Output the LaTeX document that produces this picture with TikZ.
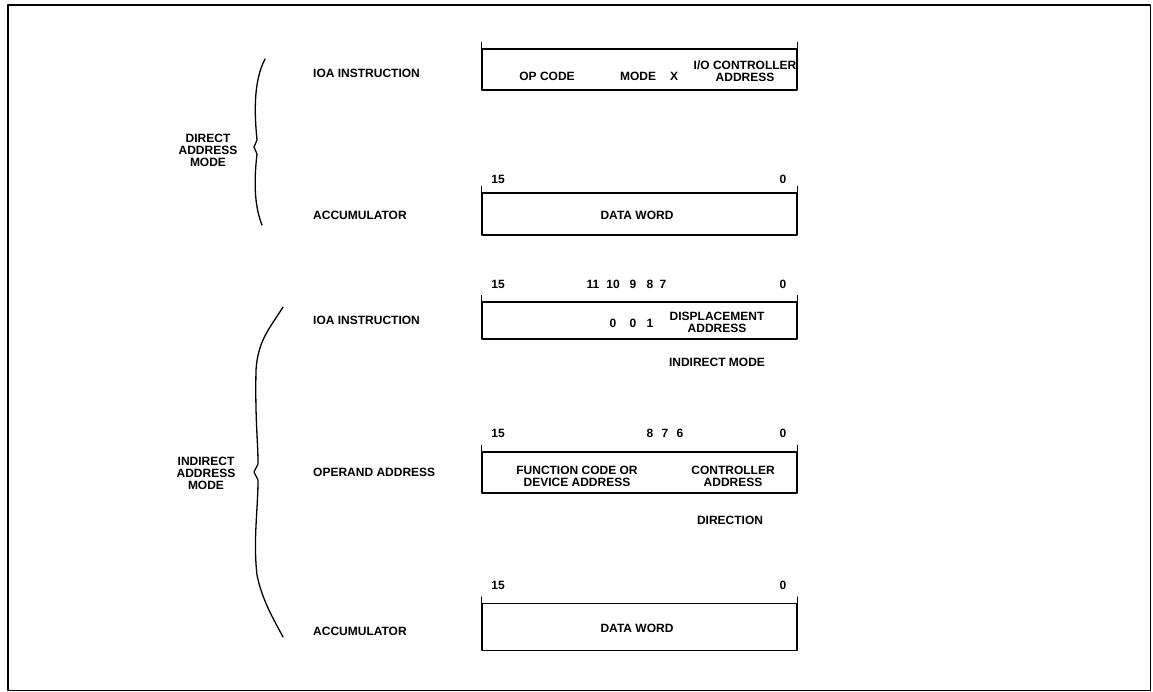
\documentclass[tikz,border=0pt]{standalone}
\usepackage{fontspec}
\setmainfont{Liberation Sans}
\usetikzlibrary{positioning}
\tikzset{
  every picture/.style={line cap=round, line join=round},
  lbl/.style={font=\bfseries\fontsize{12}{12}\selectfont, inner sep=0pt, align=center},
  bitno/.style={lbl, anchor=base},
  rowname/.style={lbl, anchor=west},
  wordbox/.style={draw, line width=1.1pt, minimum width=315pt, inner sep=0pt},
  tick/.style={line width=1.1pt},
  brace/.style={line width=1.3pt},
}

\begin{document}
\begin{tikzpicture}[x=1pt, y=-1pt]
  \useasboundingbox (0,0) rectangle (1153,692);
  % frame
  \draw[line width=0.9pt] (8,5) rectangle (1150,690);
  \draw[line width=2.6pt] (8,690) -- (8,5) -- (1150,5);

  % direct address mode
  \node[wordbox, minimum height=41pt] (ioadir) at (639.5,69.5) {};
  \node[wordbox, minimum height=42pt] (accdir) at (639.5,214) {};
  \node[wordbox, minimum height=37pt] (ioaind) at (639.5,320.5) {};
  \node[wordbox, minimum height=41pt] (opaddr) at (639.5,472.5) {};
  \node[wordbox, minimum height=47pt] (accind) at (639.5,627) {};
  \foreach \b in {ioadir, accdir, ioaind, opaddr, accind}{
    \draw[tick] (\b.north west) -- ++(0,-6);
    \draw[tick] (\b.north east) -- ++(0,-6);}

  % row names
  \node[rowname] (n1) at (313,73) {IOA INSTRUCTION};
  \node[rowname] (n2) at (313,215) {ACCUMULATOR};
  \node[rowname] (n3) at (313,320) {IOA INSTRUCTION};
  \node[rowname] (n4) at (313,472) {OPERAND ADDRESS};
  \node[rowname] (n5) at (313,631) {ACCUMULATOR};

  % fields
  \node[lbl] (opc) at (547,76) {OP CODE};
  \node[lbl] (mode) at (638,76) {MODE};
  \node[lbl] (xbit) at (674,76) {X};
  \node[lbl] (ioc) at (745,71) {I/O CONTROLLER\\ADDRESS};
  \node[lbl] (dw1) at (637,215) {DATA WORD};
  \foreach \x/\v in {613/0, 633/0, 650/1}
    \node[bitno] (m\x) at (\x,327) {\v};
  \node[lbl] (disp) at (717,322) {DISPLACEMENT\\ADDRESS};
  \node[lbl] (indm) at (717,362) {INDIRECT MODE};
  \node[lbl] (fcode) at (577,476) {FUNCTION CODE OR\\DEVICE ADDRESS};
  \node[lbl] (ctrl) at (733,476) {CONTROLLER\\ADDRESS};
  \node[lbl] (dirn) at (730,520) {DIRECTION};
  \node[lbl] (dw2) at (637,628) {DATA WORD};

  % bit numbers
  \foreach \x/\l/\y in {498/15/184, 783/0/184,
                        498/15/289, 593/11/289, 613/10/289, 633/9/289, 650/8/289, 663/7/289, 783/0/289,
                        498/15/437, 650/8/437, 665/7/437, 680/6/437, 783/0/437,
                        498/15/589, 783/0/589}
    \node[bitno] (b\x-\y) at (\x,\y) {\l};

  % braces
  \draw[brace] (265,59) .. controls (254,80) and (254,110) .. (257,140)
    -- (254,147) -- (257,154) .. controls (254,180) and (254,205) .. (262,225);
  \draw[brace] (283,307) .. controls (270,328) and (258,340) .. (256,370)
    .. controls (255,420) and (258,440) .. (258,464)
    -- (254,472) -- (258,480)
    .. controls (258,510) and (253,540) .. (257,575)
    .. controls (262,600) and (274,620) .. (283,637);
  \node[lbl] (dlab) at (208,150) {DIRECT\\ADDRESS\\MODE};
  \node[lbl] (ilab) at (206,473) {INDIRECT\\ADDRESS\\MODE};
\end{tikzpicture}
\end{document}
